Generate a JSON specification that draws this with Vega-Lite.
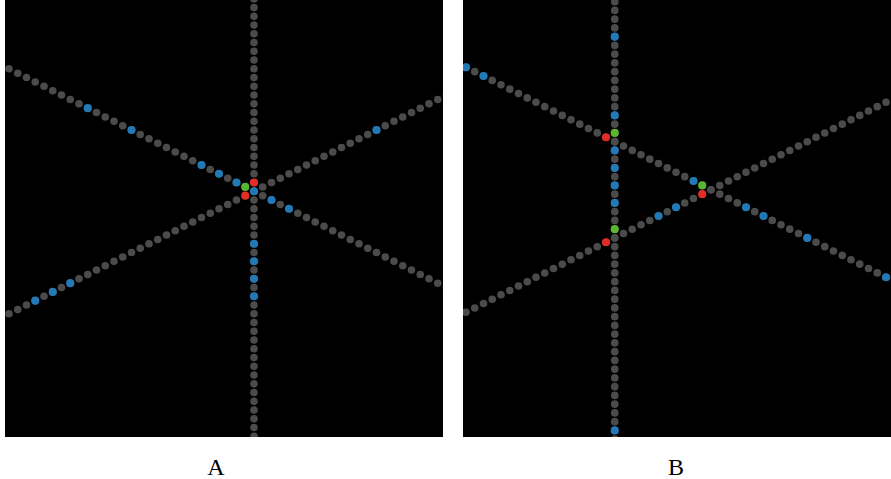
{
  "$schema": "https://vega.github.io/schema/vega-lite/v6.json",
  "background": "white",
  "padding": {"left": 5, "top": 0, "right": 0, "bottom": 0},
  "spacing": 20,
  "datasets": {
    "lines": [
      {"p": "A", "t": "v", "x": 0, "y": -23, "x2": 0, "y2": 29},
      {"p": "A", "t": "d", "x": -29, "y": -14.5, "x2": 22, "y2": 11},
      {"p": "A", "t": "d", "x": -29, "y": 14.5, "x2": 22, "y2": -11},
      {"p": "B", "t": "v", "x": -11, "y": -22.5, "x2": -11, "y2": 29.5},
      {"p": "B", "t": "d", "x": -29, "y": -14.5, "x2": 21, "y2": 10.5},
      {"p": "B", "t": "d", "x": -29, "y": 14.5, "x2": 21, "y2": -10.5}
    ],
    "dots": [
      {"p": "A", "x": 0, "y": 0, "c": "blue"},
      {"p": "A", "x": 0, "y": 6, "c": "blue"},
      {"p": "A", "x": 0, "y": 8, "c": "blue"},
      {"p": "A", "x": 0, "y": 10, "c": "blue"},
      {"p": "A", "x": 0, "y": 12, "c": "blue"},
      {"p": "A", "x": 0, "y": -1, "c": "red"},
      {"p": "A", "x": -19, "y": -9.5, "c": "blue"},
      {"p": "A", "x": -14, "y": -7, "c": "blue"},
      {"p": "A", "x": -6, "y": -3, "c": "blue"},
      {"p": "A", "x": -4, "y": -2, "c": "blue"},
      {"p": "A", "x": -2, "y": -1, "c": "blue"},
      {"p": "A", "x": 2, "y": 1, "c": "blue"},
      {"p": "A", "x": 4, "y": 2, "c": "blue"},
      {"p": "A", "x": -1, "y": -0.5, "c": "green"},
      {"p": "A", "x": -25, "y": 12.5, "c": "blue"},
      {"p": "A", "x": -23, "y": 11.5, "c": "blue"},
      {"p": "A", "x": -21, "y": 10.5, "c": "blue"},
      {"p": "A", "x": 14, "y": -7, "c": "blue"},
      {"p": "A", "x": -1, "y": 0.5, "c": "red"},
      {"p": "B", "x": -11, "y": -17.5, "c": "blue"},
      {"p": "B", "x": -11, "y": -8.5, "c": "blue"},
      {"p": "B", "x": -11, "y": -4.5, "c": "blue"},
      {"p": "B", "x": -11, "y": -2.5, "c": "blue"},
      {"p": "B", "x": -11, "y": -0.5, "c": "blue"},
      {"p": "B", "x": -11, "y": 1.5, "c": "blue"},
      {"p": "B", "x": -11, "y": 27.5, "c": "blue"},
      {"p": "B", "x": -11, "y": -6.5, "c": "green"},
      {"p": "B", "x": -11, "y": 4.5, "c": "green"},
      {"p": "B", "x": -28, "y": -14, "c": "blue"},
      {"p": "B", "x": -26, "y": -13, "c": "blue"},
      {"p": "B", "x": -2, "y": -1, "c": "blue"},
      {"p": "B", "x": 4, "y": 2, "c": "blue"},
      {"p": "B", "x": 6, "y": 3, "c": "blue"},
      {"p": "B", "x": 11, "y": 5.5, "c": "blue"},
      {"p": "B", "x": 20, "y": 10, "c": "blue"},
      {"p": "B", "x": -1, "y": -0.5, "c": "green"},
      {"p": "B", "x": -12, "y": -6, "c": "red"},
      {"p": "B", "x": -6, "y": 3, "c": "blue"},
      {"p": "B", "x": -4, "y": 2, "c": "blue"},
      {"p": "B", "x": -12, "y": 6, "c": "red"},
      {"p": "B", "x": -1, "y": 0.5, "c": "red"}
    ]
  },
  "hconcat": [
    {
      "width": 438,
      "height": 437,
      "title": {"text": "A", "orient": "bottom", "offset": 19, "dx": -8, "font": "Liberation Serif", "fontSize": 24, "fontWeight": "normal", "color": "black"},
      "layer": [
        {
          "data": {"name": "lines"},
          "transform": [{"filter": "datum.p == 'A' && datum.t == 'v'"}],
          "mark": {"type": "rule", "strokeDash": [0, 8.75], "strokeCap": "round", "strokeWidth": 7.6, "color": "#4b4b4b", "clip": true},
          "encoding": {
            "x": {"field": "x", "type": "quantitative", "scale": {"domain": [-28.457, 21.6], "nice": false, "zero": false}, "axis": null},
            "y": {"field": "y", "type": "quantitative", "scale": {"domain": [-21.863, 28.08], "nice": false, "zero": false, "reverse": true}, "axis": null},
            "x2": {"field": "x2"},
            "y2": {"field": "y2"}
          }
        },
        {
          "data": {"name": "lines"},
          "transform": [{"filter": "datum.p == 'A' && datum.t == 'd'"}],
          "mark": {"type": "rule", "strokeDash": [0, 9.7828], "strokeCap": "round", "strokeWidth": 7.6, "color": "#4b4b4b", "clip": true},
          "encoding": {
            "x": {"field": "x", "type": "quantitative", "axis": null},
            "y": {"field": "y", "type": "quantitative", "axis": null},
            "x2": {"field": "x2"},
            "y2": {"field": "y2"}
          }
        },
        {
          "data": {"name": "dots"},
          "transform": [{"filter": "datum.p == 'A'"}],
          "mark": {"type": "circle", "size": 66, "opacity": 1, "clip": true},
          "encoding": {
            "x": {"field": "x", "type": "quantitative", "axis": null},
            "y": {"field": "y", "type": "quantitative", "axis": null},
            "color": {"field": "c", "type": "nominal", "scale": {"domain": ["blue", "green", "red"], "range": ["#2379b5", "#5ab52f", "#e22d26"]}, "legend": null}
          }
        }
      ]
    },
    {
      "width": 428,
      "height": 437,
      "title": {"text": "B", "orient": "bottom", "offset": 19, "dx": -1, "font": "Liberation Serif", "fontSize": 24, "fontWeight": "normal", "color": "black"},
      "layer": [
        {
          "data": {"name": "lines"},
          "transform": [{"filter": "datum.p == 'B' && datum.t == 'v'"}],
          "mark": {"type": "rule", "strokeDash": [0, 8.75], "strokeCap": "round", "strokeWidth": 7.6, "color": "#4b4b4b", "clip": true},
          "encoding": {
            "x": {"field": "x", "type": "quantitative", "scale": {"domain": [-28.343, 20.571], "nice": false, "zero": false}, "axis": null},
            "y": {"field": "y", "type": "quantitative", "scale": {"domain": [-21.691, 28.251], "nice": false, "zero": false, "reverse": true}, "axis": null},
            "x2": {"field": "x2"},
            "y2": {"field": "y2"}
          }
        },
        {
          "data": {"name": "lines"},
          "transform": [{"filter": "datum.p == 'B' && datum.t == 'd'"}],
          "mark": {"type": "rule", "strokeDash": [0, 9.7828], "strokeCap": "round", "strokeWidth": 7.6, "color": "#4b4b4b", "clip": true},
          "encoding": {
            "x": {"field": "x", "type": "quantitative", "axis": null},
            "y": {"field": "y", "type": "quantitative", "axis": null},
            "x2": {"field": "x2"},
            "y2": {"field": "y2"}
          }
        },
        {
          "data": {"name": "dots"},
          "transform": [{"filter": "datum.p == 'B'"}],
          "mark": {"type": "circle", "size": 66, "opacity": 1, "clip": true},
          "encoding": {
            "x": {"field": "x", "type": "quantitative", "axis": null},
            "y": {"field": "y", "type": "quantitative", "axis": null},
            "color": {"field": "c", "type": "nominal", "scale": {"domain": ["blue", "green", "red"], "range": ["#2379b5", "#5ab52f", "#e22d26"]}, "legend": null}
          }
        }
      ]
    }
  ],
  "config": {
    "view": {"fill": "black", "stroke": null}
  }
}
